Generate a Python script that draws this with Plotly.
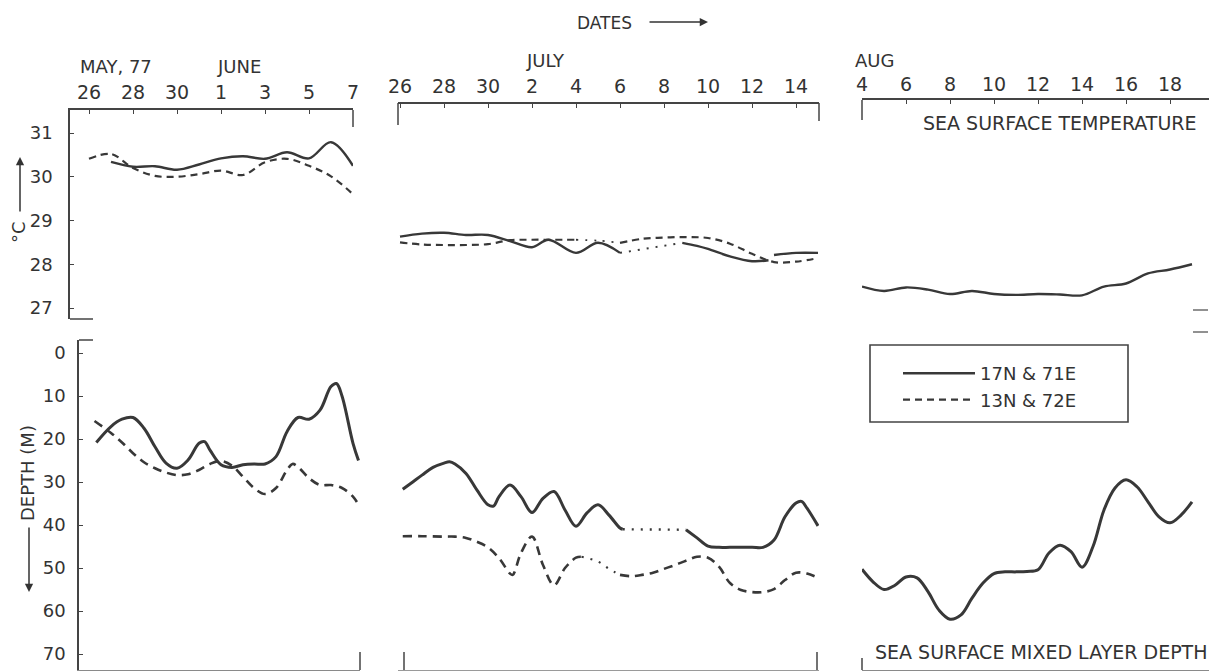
import pandas as pd
import plotly.graph_objects as go

W, H = 1209, 672
PX_PER_DAY = 22.0
INK = "#333333"
LINE = "#383838"
FRAME = "#444444"
FONT = "DejaVu Sans"
YEAR = "1977-"

STATION_A = "17N & 71E"
STATION_B = "13N & 72E"

# ---------------- tick positions and labels ----------------
may_jun_ticks = ["05-26", "05-28", "05-30", "06-01", "06-03", "06-05", "06-07"]
may_jun_ticktext = ["26", "28", "30", "1", "3", "5", "7"]
jun_jul_ticks = ["06-26", "06-28", "06-30", "07-02", "07-04", "07-06",
                 "07-08", "07-10", "07-12", "07-14"]
jun_jul_ticktext = ["26", "28", "30", "2", "4", "6", "8", "10", "12", "14"]
aug_ticks = ["08-04", "08-06", "08-08", "08-10", "08-12", "08-14", "08-16", "08-18"]
aug_ticktext = ["4", "6", "8", "10", "12", "14", "16", "18"]

sst_tickvals = [27, 28, 29, 30, 31]
mld_tickvals = [0, 10, 20, 30, 40, 50, 60, 70]

# ---------------- sea surface temperature (deg C) ----------------
sst_a_mayjun_dates = ["05-27", "05-28", "05-29", "05-30", "05-31", "06-01",
                      "06-02", "06-03", "06-04", "06-05", "06-06", "06-07"]
sst_a_mayjun = [30.34, 30.23, 30.24, 30.16, 30.28, 30.42,
                30.47, 30.41, 30.56, 30.42, 30.79, 30.25]

sst_b_mayjun_dates = ["05-26", "05-27", "05-28", "05-29", "05-30", "05-31", "06-01",
                      "06-02", "06-03", "06-04", "06-05", "06-06", "06-07"]
sst_b_mayjun = [30.41, 30.52, 30.20, 30.02, 30.00, 30.06, 30.14,
                30.04, 30.33, 30.41, 30.25, 30.01, 29.60]

sst_a_junjul_dates = ["06-26", "06-27", "06-28", "06-29", "06-30", "07-01", "07-02",
                      "07-02 18:00", "07-04", "07-05", "07-06", "07-08 20:00",
                      "07-09 12:00", "07-10", "07-11", "07-12", "07-12 18:00",
                      "07-12 21:00", "07-13", "07-14", "07-15"]
sst_a_junjul = [28.63, 28.70, 28.72, 28.67, 28.67, 28.53, 28.39,
                28.56, 28.26, 28.49, 28.26, 28.49,
                28.42, 28.35, 28.18, 28.07, 28.09,
                None, 28.21, 28.26, 28.26]
sst_a_junjul_dotted = [("07-06", "07-08 20:00")]

sst_b_junjul_dates = ["06-26", "06-27", "06-28", "06-29", "06-30", "07-01", "07-02",
                      "07-03", "07-04", "07-05", "07-06", "07-07", "07-08", "07-09",
                      "07-10", "07-11", "07-12", "07-13", "07-14", "07-15"]
sst_b_junjul = [28.50, 28.45, 28.44, 28.44, 28.46, 28.55, 28.56,
                28.56, 28.56, 28.54, 28.49, 28.58, 28.61, 28.62,
                28.60, 28.47, 28.24, 28.05, 28.06, 28.14]
sst_b_junjul_dotted = [("07-04", "07-06")]

sst_a_aug_dates = ["08-04", "08-05", "08-06", "08-07", "08-08", "08-09", "08-10", "08-11",
                   "08-12", "08-13", "08-14", "08-15", "08-16", "08-17", "08-18", "08-19"]
sst_a_aug = [27.49, 27.39, 27.47, 27.42, 27.32, 27.39, 27.32, 27.30,
             27.32, 27.31, 27.29, 27.49, 27.56, 27.79, 27.88, 28.00]

# ---------------- mixed layer depth (m) ----------------
mld_a_mayjun_dates = ["05-26 08:00", "05-27 00:00", "05-27 12:00", "05-28 00:00",
                      "05-28 12:00", "05-29 00:00", "05-29 12:00", "05-30 00:00",
                      "05-30 12:00", "05-31 00:00", "05-31 06:00", "05-31 12:00",
                      "06-01 00:00", "06-01 12:00", "06-02 00:00", "06-02 12:00",
                      "06-03 00:00", "06-03 12:00", "06-04 00:00", "06-04 12:00",
                      "06-05 00:00", "06-05 12:00", "06-06 00:00", "06-06 06:00",
                      "06-06 12:00", "06-07 00:00", "06-07 06:00"]
mld_a_mayjun = [20.8, 17.1, 15.4, 15.0,
                17.5, 21.8, 25.6, 26.8,
                24.9, 21.0, 20.6, 22.6,
                26.0, 26.6, 26.0, 25.8,
                25.8, 24.1, 18.3, 15.0,
                15.4, 13.3, 7.8, 7.1,
                10.0, 21.0, 25.0]

mld_b_mayjun_dates = ["05-26 06:00", "05-27 00:00", "05-27 12:00", "05-28 00:00",
                      "05-28 12:00", "05-29 00:00", "05-29 12:00", "05-30 00:00",
                      "05-30 12:00", "05-31 00:00", "05-31 12:00", "06-01 00:00",
                      "06-01 12:00", "06-02 00:00", "06-02 12:00", "06-03 00:00",
                      "06-03 12:00", "06-04 00:00", "06-04 06:00", "06-04 12:00",
                      "06-05 00:00", "06-05 12:00", "06-06 00:00", "06-06 12:00",
                      "06-07 00:00", "06-07 06:00"]
mld_b_mayjun = [15.8, 18.6, 20.8, 23.3,
                25.4, 26.8, 27.8, 28.4,
                28.2, 27.2, 25.8, 25.1,
                26.2, 28.8, 31.4, 32.8,
                31.4, 27.2, 25.8, 26.5,
                29.1, 30.7, 30.7, 31.4,
                33.4, 35.3]

mld_a_junjul_dates = ["06-26 03:00", "06-26 12:00", "06-27 00:00", "06-27 12:00",
                      "06-28 00:00", "06-28 06:00", "06-28 12:00", "06-29 00:00",
                      "06-29 12:00", "06-30 00:00", "06-30 06:00", "06-30 12:00",
                      "07-01 00:00", "07-01 12:00", "07-02 00:00", "07-02 12:00",
                      "07-03 00:00", "07-03 12:00", "07-04 00:00", "07-04 12:00",
                      "07-05 00:00", "07-05 12:00", "07-06 00:00", "07-06 03:00",
                      "07-09 00:00", "07-09 12:00", "07-10 00:00", "07-10 12:00",
                      "07-11 00:00", "07-12 00:00", "07-12 12:00", "07-13 00:00",
                      "07-13 12:00", "07-14 00:00", "07-14 06:00", "07-14 12:00",
                      "07-15 00:00"]
mld_a_junjul = [31.7, 30.3, 28.4, 26.6,
                25.6, 25.3, 25.8, 28.0,
                31.9, 35.3, 35.6, 33.4,
                30.7, 33.4, 37.1, 33.8,
                32.2, 36.5, 40.3, 37.2,
                35.3, 37.7, 40.7, 41.0,
                41.1, 43.0, 44.9, 45.2,
                45.2, 45.2, 45.2, 43.5,
                38.1, 34.9, 34.5, 36.1,
                40.2]
mld_a_junjul_dotted = [("07-06 03:00", "07-09 00:00")]

mld_b_junjul_dates = ["06-26 03:00", "06-27 00:00", "06-28 00:00", "06-28 12:00",
                      "06-29 00:00", "06-29 12:00", "06-30 00:00", "06-30 12:00",
                      "07-01 00:00", "07-01 03:00", "07-01 12:00", "07-02 00:00",
                      "07-02 12:00", "07-03 00:00", "07-03 12:00", "07-04 00:00",
                      "07-04 06:00", "07-05 00:00", "07-05 12:00", "07-06 00:00",
                      "07-06 12:00", "07-07 00:00", "07-07 12:00", "07-08 00:00",
                      "07-08 12:00", "07-09 00:00", "07-09 12:00", "07-10 00:00",
                      "07-10 12:00", "07-11 00:00", "07-11 12:00", "07-12 00:00",
                      "07-12 12:00", "07-13 00:00", "07-13 12:00", "07-14 00:00",
                      "07-14 12:00", "07-15 00:00"]
mld_b_junjul = [42.6, 42.6, 42.7, 42.7,
                43.0, 43.9, 45.2, 47.7,
                51.3, 51.6, 46.5, 42.7,
                49.3, 54.0, 50.0, 47.6,
                47.4, 48.5, 50.2, 51.6,
                51.9, 51.6, 51.1, 50.2,
                49.3, 48.3, 47.4, 47.6,
                49.7, 53.5, 55.1, 55.6,
                55.6, 54.9, 52.8, 51.1,
                51.3, 52.3]
mld_b_junjul_dotted = [("07-04 06:00", "07-06 00:00")]

mld_a_aug_dates = ["08-04 00:00", "08-04 12:00", "08-05 00:00", "08-05 12:00",
                   "08-06 00:00", "08-06 12:00", "08-07 00:00", "08-07 12:00",
                   "08-08 00:00", "08-08 12:00", "08-09 00:00", "08-09 12:00",
                   "08-10 00:00", "08-10 12:00", "08-11 00:00", "08-11 12:00",
                   "08-12 00:00", "08-12 12:00", "08-13 00:00", "08-13 12:00",
                   "08-14 00:00", "08-14 12:00", "08-15 00:00", "08-15 12:00",
                   "08-16 00:00", "08-16 12:00", "08-17 00:00", "08-17 12:00",
                   "08-18 00:00", "08-18 12:00", "08-19 00:00"]
mld_a_aug = [50.3, 53.2, 55.0, 54.0,
             52.1, 52.3, 55.5, 59.8,
             61.9, 60.9, 57.0, 53.5,
             51.3, 50.9, 50.9, 50.8,
             50.4, 46.5, 44.7, 46.2,
             49.8, 45.0, 36.5, 31.4,
             29.5, 31.1, 34.6, 38.1,
             39.5, 37.7, 34.6]


# ---------------- helpers ----------------
def ts(s):
    return pd.Timestamp(YEAR + s)


def hx(px):
    return px / W


def vy(py):
    return 1 - py / H


def date_at(px, anchor_px, anchor_date):
    t = ts(anchor_date) + pd.Timedelta(days=(px - anchor_px) / PX_PER_DAY)
    return t.strftime("%Y-%m-%d %H:%M:%S")


def split_runs(dates, values, dotted):
    """Split a series into the measured line and dotted (interpolated) runs."""
    t = [ts(d) for d in dates]
    runs = [(ts(a), ts(b)) for a, b in dotted]
    main_x, main_y = [], []
    for ti, v in zip(t, values):
        if any(a < ti < b for a, b in runs):
            continue
        main_x.append(ti)
        main_y.append(v)
        if any(ti == a for a, _ in runs):
            main_x.append(ti)
            main_y.append(None)
    dots = []
    for a, b in runs:
        xs = [ti for ti in t if a <= ti <= b]
        ys = [v for ti, v in zip(t, values) if a <= ti <= b]
        dots.append((xs, ys))
    return main_x, main_y, dots


fig = go.Figure()


def add_series(dates, values, xa, ya, dash, width, name, show, dotted=()):
    mx, my, dots = split_runs(dates, values, list(dotted))
    fig.add_trace(go.Scatter(
        x=mx, y=my, xaxis=xa, yaxis=ya, mode="lines", name=name,
        legendgroup=name, showlegend=show,
        line=dict(color=LINE, width=width, dash=dash, shape="spline", smoothing=1.0),
        hoverinfo="skip"))
    for xs, ys in dots:
        fig.add_trace(go.Scatter(
            x=xs, y=ys, xaxis=xa, yaxis=ya, mode="lines", legendgroup=name,
            showlegend=False,
            line=dict(color=LINE, width=width * 0.8, dash="2px,7px",
                      shape="spline", smoothing=1.0),
            hoverinfo="skip"))


SOLID_W_TOP, SOLID_W_BOT = 2.4, 3.0
DASHED_W_TOP, DASHED_W_BOT = 2.2, 2.6
DASH_TOP, DASH_BOT = "7px,5px", "9px,6px"

# temperature panels
add_series(sst_a_mayjun_dates, sst_a_mayjun, "x", "y", "solid", SOLID_W_TOP, STATION_A, True)
add_series(sst_b_mayjun_dates, sst_b_mayjun, "x", "y", DASH_TOP, DASHED_W_TOP, STATION_B, True)
add_series(sst_a_junjul_dates, sst_a_junjul, "x2", "y3", "solid", SOLID_W_TOP, STATION_A, False,
           sst_a_junjul_dotted)
add_series(sst_b_junjul_dates, sst_b_junjul, "x2", "y3", DASH_TOP, DASHED_W_TOP, STATION_B, False,
           sst_b_junjul_dotted)
add_series(sst_a_aug_dates, sst_a_aug, "x3", "y3", "solid", SOLID_W_TOP, STATION_A, False)

# mixed layer depth panels
add_series(mld_a_mayjun_dates, mld_a_mayjun, "x4", "y2", "solid", SOLID_W_BOT, STATION_A, False)
add_series(mld_b_mayjun_dates, mld_b_mayjun, "x4", "y2", DASH_BOT, DASHED_W_BOT, STATION_B, False)
add_series(mld_a_junjul_dates, mld_a_junjul, "x5", "y2", "solid", SOLID_W_BOT, STATION_A, False,
           mld_a_junjul_dotted)
add_series(mld_b_junjul_dates, mld_b_junjul, "x5", "y2", DASH_BOT, DASHED_W_BOT, STATION_B, False,
           mld_b_junjul_dotted)
add_series(mld_a_aug_dates, mld_a_aug, "x6", "y2", "solid", SOLID_W_BOT, STATION_A, False)

# ---------------- axes ----------------
tick_font = dict(family=FONT, size=19, color=INK)
ytick_font = dict(family=FONT, size=18, color=INK)


def top_axis(domain_px, anchor_px, anchor_date, ticks, ticktext, standoff, **kw):
    return dict(
        domain=[hx(domain_px[0]), hx(domain_px[1])],
        range=[date_at(domain_px[0], anchor_px, anchor_date),
               date_at(domain_px[1], anchor_px, anchor_date)],
        type="date", side="top", showline=True, linecolor=FRAME, linewidth=1.5,
        ticks="inside", ticklen=4, tickwidth=1, tickcolor=FRAME,
        tickvals=[ts(t) for t in ticks], ticktext=ticktext, tickfont=tick_font,
        ticklabelstandoff=standoff, showgrid=False, zeroline=False,
        automargin=False, **kw)


def bottom_axis(domain_px, anchor_px, anchor_date, color):
    return dict(
        domain=[hx(domain_px[0]), hx(domain_px[1])],
        range=[date_at(domain_px[0], anchor_px, anchor_date),
               date_at(domain_px[1], anchor_px, anchor_date)],
        type="date", anchor="y2", showline=True, linecolor=color, linewidth=1.2,
        ticks="", showticklabels=False, showgrid=False, zeroline=False,
        automargin=False)


# temperature scale: 31 C at y=133 px, 43.75 px per degree
def sst_at(py):
    return 31 + (133 - py) / 43.75


# depth scale: 0 m at y=353 px, 4.3 px per metre
def mld_at(py):
    return (py - 353) / 4.3


layout_axes = dict(
    xaxis=top_axis((70, 353), 89, "05-26", may_jun_ticks, may_jun_ticktext, 2, anchor="y"),
    xaxis2=top_axis((398, 819), 400, "06-26", jun_jul_ticks, jun_jul_ticktext, 2,
                    anchor="free", position=vy(103)),
    xaxis3=top_axis((862, 1209), 862, "08-04", aug_ticks, aug_ticktext, 0, anchor="y3"),
    xaxis4=bottom_axis((79, 360), 89, "05-26", "#8a8a8a"),
    xaxis5=bottom_axis((398, 819), 400, "06-26", "#9a9a9a"),
    xaxis6=bottom_axis((862, 1209), 862, "08-04", "#8a8a8a"),
    yaxis=dict(domain=[vy(319), vy(110)], range=[sst_at(319), sst_at(110)], anchor="x",
               showline=True, linecolor=FRAME, linewidth=1.6, ticks="inside", ticklen=4,
               tickcolor=FRAME, tickvals=sst_tickvals, tickfont=ytick_font,
               ticklabelstandoff=12, showgrid=False, zeroline=False, automargin=False),
    yaxis3=dict(domain=[vy(319), vy(100)], range=[sst_at(319), sst_at(100)], anchor="x3",
                visible=False, showgrid=False, zeroline=False, automargin=False),
    yaxis2=dict(domain=[vy(670), vy(340)], range=[mld_at(670), mld_at(340)], anchor="x4",
                showline=True, linecolor=FRAME, linewidth=1.6, ticks="inside", ticklen=4,
                tickcolor=FRAME, tickvals=mld_tickvals, tickfont=ytick_font,
                ticklabelstandoff=8, showgrid=False, zeroline=False, automargin=False),
)


# ---------------- frame brackets and legend box ----------------
def seg(x0, y0, x1, y1, color=FRAME, width=1.5):
    return dict(type="line", xref="paper", yref="paper",
                x0=hx(x0), y0=vy(y0), x1=hx(x1), y1=vy(y1),
                line=dict(color=color, width=width))


shapes = [
    seg(353, 110, 353, 127),
    seg(70, 319, 93, 319),
    seg(79, 340, 93, 340),
    seg(398, 103, 398, 125), seg(819, 103, 819, 121),
    seg(862, 100, 862, 120),
    seg(360, 652, 360, 670),
    seg(404, 652, 404, 670), seg(817, 652, 817, 670),
    seg(862, 658, 862, 670),
    seg(1193, 310, 1208, 310, "#555", 1.3), seg(1193, 332, 1208, 332, "#555", 1.3),
    dict(type="rect", xref="paper", yref="paper",
         x0=hx(870), y0=vy(422), x1=hx(1128), y1=vy(345),
         line=dict(color=FRAME, width=1.6), fillcolor="rgba(0,0,0,0)"),
]


# ---------------- text ----------------
def label(text, x, y, size=18, xanchor="center", **kw):
    return dict(text=text, xref="paper", yref="paper", x=hx(x), y=vy(y),
                xanchor=xanchor, yanchor="middle", showarrow=False,
                font=dict(family=FONT, size=size, color=INK), **kw)


def arrow(x_tip, y_tip, x_tail, y_tail):
    return dict(text="", xref="paper", yref="paper", x=hx(x_tip), y=vy(y_tip),
                xanchor="center", yanchor="middle",
                axref="pixel", ayref="pixel", ax=x_tail - x_tip, ay=y_tail - y_tip,
                showarrow=True, arrowhead=2, arrowsize=1.1, arrowwidth=1.5,
                arrowcolor=INK)


annotations = [
    label("DATES", 605, 23, 17),
    arrow(708, 22, 648, 22),
    label("MAY, 77", 116, 67),
    label("JUNE", 239, 67),
    label("JULY", 545, 60),
    label("AUG", 874, 60),
    label("°C", 18, 232, 18, textangle=-90),
    arrow(20, 157, 20, 213),
    label("DEPTH (M)", 27, 473, 18, textangle=-90),
    arrow(29, 592, 29, 526),
    label("SEA SURFACE TEMPERATURE", 1060, 123, 19),
    label("SEA SURFACE MIXED LAYER DEPTH", 873, 652, 19, xanchor="left"),
]

fig.update_layout(
    width=W, height=H, margin=dict(l=0, r=0, t=0, b=0, autoexpand=False),
    paper_bgcolor="white", plot_bgcolor="white",
    font=dict(family=FONT, color=INK),
    showlegend=True,
    legend=dict(x=hx(898), y=vy(355), xanchor="left", yanchor="top",
                bgcolor="rgba(0,0,0,0)", borderwidth=0,
                font=dict(family=FONT, size=18, color=INK),
                itemwidth=72, tracegroupgap=0, traceorder="normal"),
    shapes=shapes, annotations=annotations,
    **layout_axes,
)

fig.write_html("out.html")
